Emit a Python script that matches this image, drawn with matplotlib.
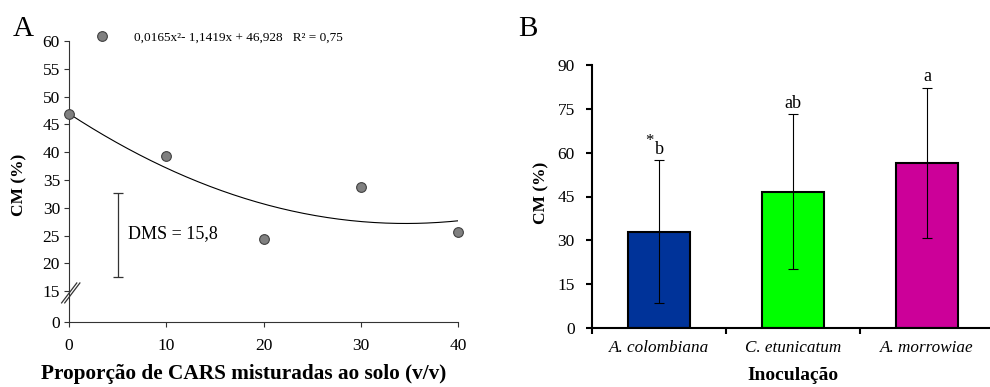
import numpy as np
import matplotlib
matplotlib.use("Agg")
import matplotlib.pyplot as plt

plt.rcParams['font.family'] = ['Liberation Serif', 'DejaVu Serif']
plt.rcParams['mathtext.fontset'] = 'stix'

# panel A data
prop = [0, 10, 20, 30, 40]
cm_a = [46.9, 39.4, 24.4, 33.8, 25.6]
coef = [0.0165, -1.1419, 46.928]   # quadratic fit
eq_label = "0,0165x\u00b2- 1,1419x + 46,928   R\u00b2 = 0,75"
dms_x = 5
dms_mid = 25.1
dms_half = 7.5
dms_label = "DMS = 15,8"

# panel B data
inoc = ["A. colombiana", "C. etunicatum", "A. morrowiae"]
cm_b = [33.0, 46.7, 56.5]
err_b = [24.5, 26.5, 25.8]
letters = ["b", "ab", "a"]
colors = ["#003399", "#00ff00", "#cc0099"]

fig = plt.figure(figsize=(9.9, 3.87), dpi=100)

# ---------- A ----------
# broken y axis: 0..15 squeezed
def fwd(y):
    y = np.asarray(y, dtype=float)
    return np.where(y >= 15, y, 9.5 + y * 5.5 / 15)

def inv(p):
    p = np.asarray(p, dtype=float)
    return np.where(p >= 15, p, (p - 9.5) * 15 / 5.5)

ax = fig.add_axes([69/990, 1 - 321.7/387, 389/990, 280.7/387])
ax.set_yscale('function', functions=(fwd, inv))
ax.set_xlim(0, 40)
ax.set_ylim(0, 60)
ax.set_yticks([0, 15, 20, 25, 30, 35, 40, 45, 50, 55, 60])
ax.set_xticks([0, 10, 20, 30, 40])
for s in ['top', 'right']:
    ax.spines[s].set_visible(False)
for s in ['left', 'bottom']:
    ax.spines[s].set_color('#333333')
ax.tick_params(axis='both', labelsize=12.5, length=3.5, color='#333333')
ax.tick_params(axis='y', pad=3)
ax.tick_params(axis='x', pad=8)

xs = np.linspace(0, 40, 200)
ax.plot(xs, np.polyval(coef, xs), color='black', lw=0.8)
pts = ax.plot(prop, cm_a, 'o', ms=7, mfc='#808080', mec='#404040', mew=0.8,
              clip_on=False, zorder=5)[0]
ax.errorbar([dms_x], [dms_mid], yerr=[dms_half], fmt='none', ecolor='#333333',
            elinewidth=0.9, capsize=3.5, capthick=0.9)
ax.text(dms_x + 1.1, dms_mid + 0.3, dms_label, fontsize=13, va='center', ha='left')

ax.legend([pts], [eq_label], loc='center left', bbox_to_anchor=(0.068, 1.012),
          frameon=False, fontsize=9.5, handlelength=1, handletextpad=1.9,
          borderpad=0, borderaxespad=0)

# axis break marks
for dx in [0, 0.008]:
    ax.plot([-0.019 + dx, 0.020 + dx], [0.067, 0.138], transform=ax.transAxes,
            color='#333333', lw=0.9, clip_on=False)

ax.set_xlabel("Proporção de CARS misturadas ao solo (v/v)", fontsize=15.3,
              fontweight='bold')
ax.xaxis.set_label_coords(0.45, -0.152)
ax.set_ylabel("CM (%)", fontsize=12.5, fontweight='bold')
ax.yaxis.set_label_coords(-0.108, 0.487)

fig.text(13/990, 1 - 35.5/387, "A", fontsize=21, va='baseline')

# ---------- B ----------
bx = fig.add_axes([592/990, 1 - 328/387, 402/990, 263/387])
pos = np.arange(len(inoc))
bx.bar(pos, cm_b, width=0.46, color=colors, edgecolor='black', lw=1.5, zorder=2)
bx.errorbar(pos, cm_b, yerr=err_b, fmt='none', ecolor='black', elinewidth=0.8,
            capsize=3.5, capthick=0.8, zorder=3)
for i in range(len(inoc)):
    bx.annotate(letters[i], (pos[i], cm_b[i] + err_b[i]), xytext=(0, 1.5),
                textcoords='offset points', ha='center', va='bottom', fontsize=13)
bx.annotate("*", (pos[0], cm_b[0] + err_b[0]), xytext=(-4, 8),
            textcoords='offset points', ha='right', va='bottom', fontsize=12)

bx.set_xlim(-0.5, 2.5)
bx.set_ylim(0, 90)
bx.set_yticks(np.arange(0, 91, 15))
bx.set_xticks([-0.5, 0.5, 1.5])
bx.set_xticklabels([])
bx.set_xticks(pos, minor=True)
bx.set_xticklabels(inoc, minor=True, fontstyle='italic', fontsize=12.3)
bx.tick_params(axis='x', which='minor', length=0, pad=9)
bx.tick_params(axis='x', which='major', length=4.5, width=1.5)
bx.tick_params(axis='y', labelsize=12.5, length=4.5, width=1.5, pad=8)
for s in ['top', 'right']:
    bx.spines[s].set_visible(False)
for s in ['left', 'bottom']:
    bx.spines[s].set_linewidth(1.5)
bx.set_xlabel("Inoculação", fontsize=14, fontweight='bold')
bx.xaxis.set_label_coords(0.5, -0.148)
bx.set_ylabel("CM (%)", fontsize=12.5, fontweight='bold')
bx.yaxis.set_label_coords(-0.107, 0.513)

fig.text(518/990, 1 - 36/387, "B", fontsize=21, va='baseline')

fig.savefig("out.png", dpi=100)
